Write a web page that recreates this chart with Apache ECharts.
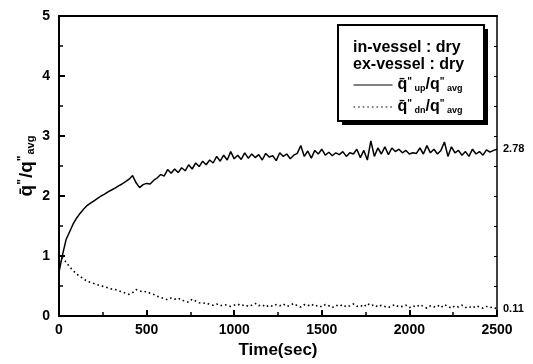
<!DOCTYPE html>
<html>
<head>
<meta charset="utf-8">
<script src="https://cdn.jsdelivr.net/npm/echarts@6/dist/echarts.min.js"></script>
<style>
  html, body { margin: 0; padding: 0; background: #fff; }
  #chart { width: 533px; height: 364px; }
</style>
</head>
<body>
<div id="chart"></div>
<script>
// Heat flux ratio history (seconds), sampled every 20 s
const timeSec = [
  0, 20, 40, 60, 80, 100, 120, 140, 160, 180,
  200, 220, 240, 260, 280, 300, 320, 340, 360, 380,
  400, 420, 440, 460, 480, 500, 520, 540, 560, 580,
  600, 620, 640, 660, 680, 700, 720, 740, 760, 780,
  800, 820, 840, 860, 880, 900, 920, 940, 960, 980,
  1000, 1020, 1040, 1060, 1080, 1100, 1120, 1140, 1160, 1180,
  1200, 1220, 1240, 1260, 1280, 1300, 1320, 1340, 1360, 1380,
  1400, 1420, 1440, 1460, 1480, 1500, 1520, 1540, 1560, 1580,
  1600, 1620, 1640, 1660, 1680, 1700, 1720, 1740, 1760, 1780,
  1800, 1820, 1840, 1860, 1880, 1900, 1920, 1940, 1960, 1980,
  2000, 2020, 2040, 2060, 2080, 2100, 2120, 2140, 2160, 2180,
  2200, 2220, 2240, 2260, 2280, 2300, 2320, 2340, 2360, 2380,
  2400, 2420, 2440, 2460, 2480, 2500
];

// upward-facing flux ratio
const qUp = [
  0.73, 1.02, 1.27, 1.40, 1.53, 1.63, 1.71, 1.78, 1.84, 1.88,
  1.92, 1.96, 2.00, 2.03, 2.07, 2.10, 2.13, 2.17, 2.20, 2.24,
  2.28, 2.34, 2.22, 2.14, 2.19, 2.21, 2.20, 2.26, 2.30, 2.36,
  2.33, 2.44, 2.38, 2.45, 2.39, 2.47, 2.42, 2.52, 2.45, 2.55,
  2.49, 2.58, 2.52, 2.60, 2.55, 2.66, 2.58, 2.68, 2.60, 2.74,
  2.62, 2.68, 2.61, 2.72, 2.63, 2.70, 2.64, 2.69, 2.60, 2.71,
  2.65, 2.67, 2.59, 2.72, 2.66, 2.70, 2.62, 2.68, 2.71, 2.84,
  2.66, 2.75, 2.63, 2.76, 2.70, 2.78, 2.68, 2.73, 2.67, 2.72,
  2.69, 2.74, 2.66, 2.72, 2.70, 2.78, 2.64, 2.76, 2.60, 2.92,
  2.66, 2.80, 2.70, 2.82, 2.69, 2.80, 2.74, 2.78, 2.72, 2.76,
  2.70, 2.72, 2.71, 2.80, 2.70, 2.84, 2.72, 2.78, 2.70, 2.76,
  2.90, 2.66, 2.82, 2.72, 2.76, 2.68, 2.74, 2.66, 2.78, 2.70,
  2.74, 2.68, 2.77, 2.73, 2.76, 2.78
];

// downward-facing flux ratio
const qDn = [
  0.90, 0.97, 0.90, 0.82, 0.76, 0.70, 0.66, 0.62, 0.58, 0.56,
  0.54, 0.52, 0.50, 0.49, 0.47, 0.45, 0.44, 0.42, 0.40, 0.38,
  0.36, 0.39, 0.44, 0.42, 0.40, 0.41, 0.38, 0.36, 0.33, 0.31,
  0.29, 0.27, 0.30, 0.28, 0.30, 0.26, 0.25, 0.23, 0.28, 0.25,
  0.22, 0.21, 0.22, 0.19, 0.18, 0.20, 0.17, 0.19, 0.18, 0.16,
  0.18, 0.20, 0.17, 0.19, 0.16, 0.18, 0.21, 0.17, 0.19, 0.15,
  0.18, 0.16, 0.19, 0.17, 0.20, 0.16, 0.18, 0.21, 0.17, 0.15,
  0.19, 0.17, 0.20, 0.16, 0.18, 0.15, 0.19, 0.17, 0.14, 0.18,
  0.16, 0.19, 0.15, 0.17, 0.20, 0.16, 0.18, 0.15, 0.21, 0.17,
  0.19, 0.15, 0.18, 0.16, 0.14, 0.17, 0.19, 0.15, 0.16, 0.18,
  0.14, 0.17, 0.15, 0.19, 0.16, 0.13, 0.17, 0.15, 0.18, 0.14,
  0.19, 0.16, 0.13, 0.17, 0.15, 0.18, 0.14, 0.16, 0.13, 0.17,
  0.15, 0.13, 0.16, 0.14, 0.15, 0.11
];

const xTicks = [0, 500, 1000, 1500, 2000, 2500];
const yTicks = [0, 1, 2, 3, 4, 5];
const conditionLines = ['in-vessel : dry', 'ex-vessel : dry'];

const FONT = 'Liberation Sans, Arial, sans-serif';
const pair = (vals) => vals.map((v, i) => [timeSec[i], v]);

const ratioRich = {
  q: { fontSize: 19, fontWeight: 'bold', fontFamily: FONT, color: '#000' },
  sup: { fontSize: 12, fontWeight: 'bold', fontFamily: FONT, color: '#000', verticalAlign: 'top', padding: [0, 1, 6, 0] },
  sub: { fontSize: 11, fontWeight: 'bold', fontFamily: FONT, color: '#000', verticalAlign: 'bottom', padding: [6, 0, 0, 0] }
};
const legendRich = {
  q: { fontSize: 16, fontWeight: 'bold', fontFamily: FONT, color: '#000' },
  sup: { fontSize: 10, fontWeight: 'bold', fontFamily: FONT, color: '#000', padding: [0, 0, 6, 0] },
  sub: { fontSize: 9, fontWeight: 'bold', fontFamily: FONT, color: '#000', padding: [7, 0, 0, 0] }
};

const seriesNames = {
  up: '{q|q\u0304}{sup|"}{sub| up}{q|/q}{sup|"}{sub| avg}',
  dn: '{q|q\u0304}{sup|"}{sub| dn}{q|/q}{sup|"}{sub| avg}'
};

const chart = echarts.init(document.getElementById('chart'), null, { renderer: 'canvas' });

const axisCommon = {
  type: 'value',
  axisLine: { show: true, onZero: false, lineStyle: { color: '#000', width: 2 } },
  axisTick: { show: true, inside: true, length: 6, lineStyle: { color: '#000', width: 2 } },
  minorTick: { show: true, splitNumber: 2, length: 4, lineStyle: { color: '#000', width: 1.5 } },
  splitLine: { show: false },
  axisLabel: { color: '#000', fontFamily: FONT, fontWeight: 'bold', fontSize: 14, formatter: (v) => String(v) }
};

chart.setOption({
  animation: false,
  backgroundColor: '#fff',
  grid: { left: 59, right: 36, top: 16, bottom: 48 },
  xAxis: [
    Object.assign({}, axisCommon, {
      min: xTicks[0], max: xTicks[xTicks.length - 1], interval: 500,
      name: 'Time(sec)', nameLocation: 'middle', nameGap: 17,
      nameTextStyle: { color: '#000', fontFamily: FONT, fontWeight: 'bold', fontSize: 17 },
      axisLabel: Object.assign({}, axisCommon.axisLabel, { margin: 7 })
    }),
    Object.assign({}, axisCommon, {
      position: 'top', min: 0, max: 2500, interval: 500,
      axisLine: { show: true, onZero: false, lineStyle: { color: '#000', width: 2 } },
      axisTick: { show: false }, minorTick: { show: false },
      axisLabel: { show: false }
    })
  ],
  yAxis: [
    Object.assign({}, axisCommon, {
      min: yTicks[0], max: yTicks[yTicks.length - 1], interval: 1,
      name: '{q|q\u0304}{sup|"}{q|/q}{sup|"}{sub|avg}', nameLocation: 'middle', nameGap: 23, nameRotate: 90,
      nameMoveOverlap: false,
      nameTextStyle: { rich: ratioRich },
      axisLabel: Object.assign({}, axisCommon.axisLabel, { margin: 9 })
    }),
    Object.assign({}, axisCommon, {
      position: 'right', min: 0, max: 5, interval: 1,
      axisLine: { show: true, onZero: false, lineStyle: { color: '#000', width: 1.5 } },
      axisTick: { show: true, inside: true, length: 3, lineStyle: { color: '#000', width: 1 } },
      minorTick: { show: true, splitNumber: 2, length: 3, lineStyle: { color: '#000', width: 1 } },
      axisLabel: { show: false }
    })
  ],
  legend: {
    orient: 'vertical', left: 353, top: 77, itemWidth: 39, itemHeight: 10, itemGap: 6,
    backgroundColor: 'transparent', padding: 0, z: 20,
    data: ['up', 'dn'],
    formatter: (name) => seriesNames[name],
    itemStyle: { color: 'rgba(0,0,0,0)', borderWidth: 0 },
    lineStyle: { width: 1 },
    textStyle: { rich: legendRich }
  },
  graphic: [
    // box shadow
    { type: 'rect', z: 10, shape: { x: 342, y: 29, width: 146, height: 96 }, style: { fill: '#000' } },
    // legend box
    { type: 'rect', z: 11, shape: { x: 338, y: 25, width: 146, height: 96 }, style: { fill: '#fff', stroke: '#000', lineWidth: 2 } },
    { type: 'text', z: 12, left: 353, top: 40, style: { text: conditionLines[0], font: 'bold 16px ' + FONT, fill: '#000' } },
    { type: 'text', z: 12, left: 353, top: 57, style: { text: conditionLines[1], font: 'bold 16px ' + FONT, fill: '#000' } }
  ],
  series: [
    {
      name: 'up', type: 'line', data: pair(qUp), symbol: 'none', z: 3,
      lineStyle: { color: '#000', width: 1.5 },
      itemStyle: { color: '#000' },
      endLabel: { show: true, distance: 6, formatter: (p) => p.value[1].toFixed(2), color: '#000', fontFamily: FONT, fontWeight: 'bold', fontSize: 11 }
    },
    {
      name: 'dn', type: 'line', data: pair(qDn), symbol: 'none', z: 3,
      lineStyle: { color: '#000', width: 1.6, type: [1.6, 3] },
      itemStyle: { color: '#000' },
      endLabel: { show: true, distance: 6, formatter: (p) => p.value[1].toFixed(2), color: '#000', fontFamily: FONT, fontWeight: 'bold', fontSize: 11 }
    }
  ]
});
</script>
</body>
</html>
